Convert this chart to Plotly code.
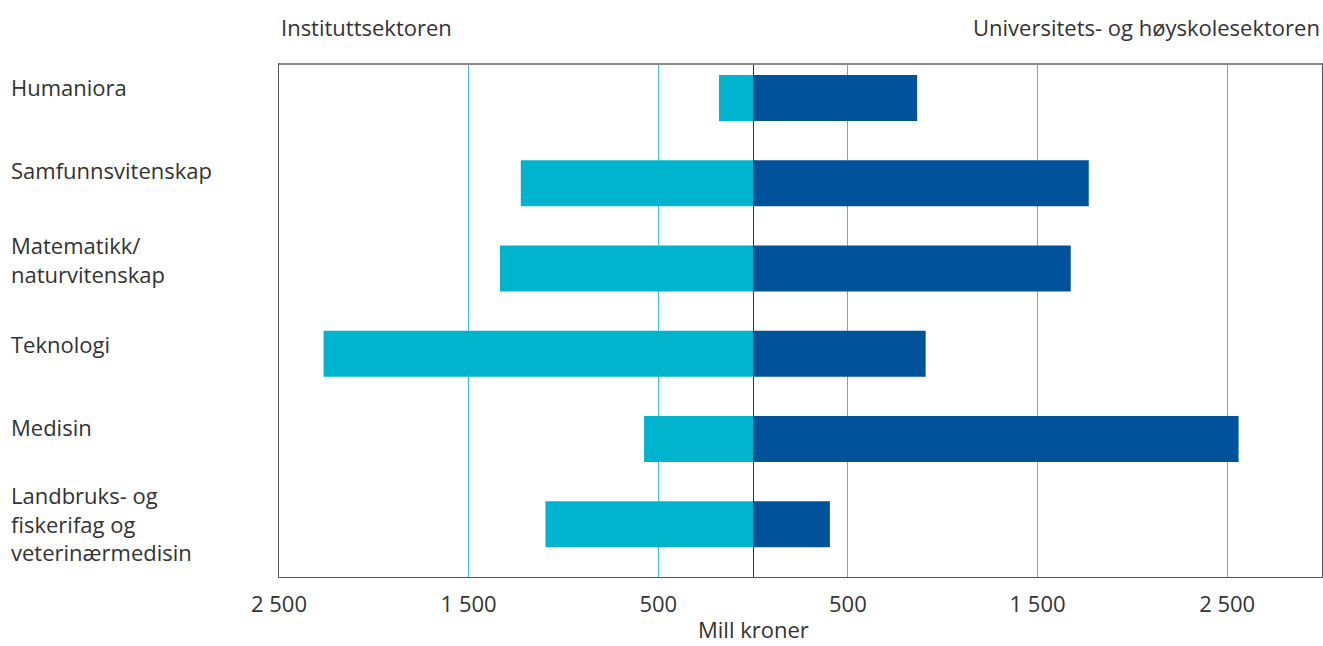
import plotly.graph_objects as go

categories = ["Humaniora", "Samfunnsvitenskap", "Matematikk/<br>naturvitenskap",
              "Teknologi", "Medisin", "Landbruks- og<br>fiskerifag og<br>veterinærmedisin"]
institutt = [180, 1225, 1335, 2265, 575, 1095]          # Instituttsektoren (plotted to the left)
universitet = [865, 1770, 1675, 910, 2560, 405]        # Universitets- og høyskolesektoren
tick_vals = [-2500, -1500, -500, 500, 1500, 2500]
tick_text = ["2 500", "1 500", "500", "500", "1 500", "2 500"]

FONT = "Open Sans"
TXT = "#333333"
LIGHT = "#00B4CE"
DARK = "#00529B"

fig = go.Figure()
fig.add_trace(go.Bar(y=categories, x=[-v for v in institutt], orientation="h",
                     marker=dict(color=LIGHT, line=dict(width=0)), width=0.54,
                     name="Instituttsektoren", hoverinfo="skip"))
fig.add_trace(go.Bar(y=categories, x=universitet, orientation="h",
                     marker=dict(color=DARK, line=dict(width=0)), width=0.54,
                     name="Universitets- og høyskolesektoren", hoverinfo="skip"))

fig.update_layout(
    width=1323, height=646,
    margin=dict(l=279, r=1, t=64, b=69),
    barmode="relative",
    showlegend=False,
    plot_bgcolor="white", paper_bgcolor="white",
    font=dict(family=FONT, size=22, color=TXT),
)
fig.update_xaxes(range=[-2500, 3000], tickvals=tick_vals, ticktext=tick_text,
                 showgrid=True, gridcolor="#3EC0DA", gridwidth=1,
                 zeroline=True, zerolinecolor="#333333", zerolinewidth=1,
                 showline=True, linecolor="#555555", linewidth=1, mirror=True,
                 ticks="", ticklabelstandoff=8,
                 tickfont=dict(size=22, color=TXT), fixedrange=True)
fig.update_yaxes(range=[5.62, -0.40], showticklabels=False, showgrid=False,
                 showline=True, linecolor="#555555", linewidth=1, mirror=True,
                 ticks="", fixedrange=True)

# top frame line (grey, thicker)
fig.add_shape(type="line", xref="paper", yref="paper", x0=0, x1=1, y0=1, y1=1,
              line=dict(color="#8A8A8A", width=2))

yshifts = [11, 13, 9, 10, 12, 1]
for cat, ys in zip(categories, yshifts):
    fig.add_annotation(text=cat, xref="paper", yref="y", x=-270/1043, y=cat,
                       xanchor="left", yanchor="middle", align="left", showarrow=False,
                       yshift=ys, font=dict(size=22, color=TXT, family=FONT))

fig.add_annotation(text="Instituttsektoren", xref="paper", yref="paper", x=0, y=1,
                   xanchor="left", yanchor="middle", yshift=37, showarrow=False,
                   font=dict(size=22, color=TXT, family=FONT))
fig.add_annotation(text="Universitets- og høyskolesektoren", xref="paper", yref="paper", x=1, y=1,
                   xanchor="right", yanchor="middle", yshift=37, showarrow=False,
                   font=dict(size=22, color=TXT, family=FONT))
fig.add_annotation(text="Mill kroner", xref="x", yref="paper", x=0, y=0,
                   xanchor="center", yanchor="bottom", yshift=-69, showarrow=False,
                   font=dict(size=22, color=TXT, family=FONT))

fig.write_html("out.html")
